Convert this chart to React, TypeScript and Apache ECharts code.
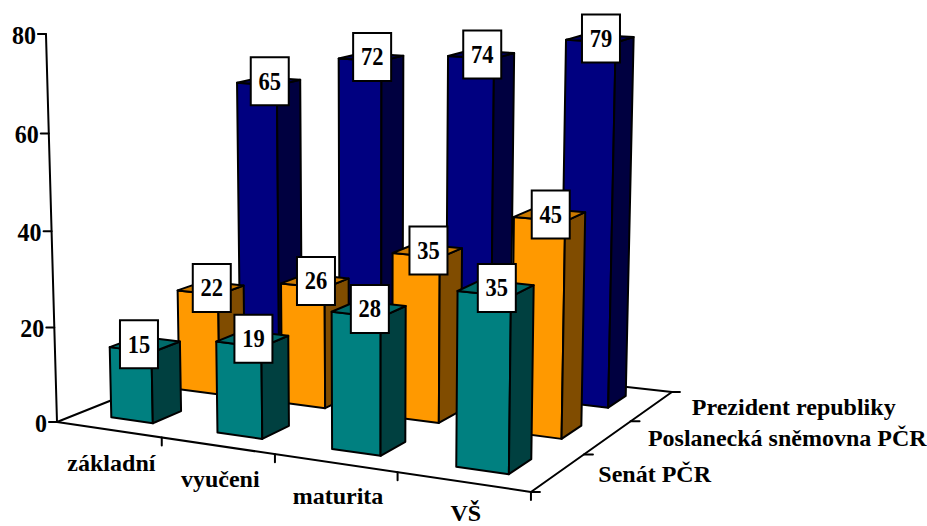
import React, { useEffect, useRef } from "react";
import * as echarts from "echarts";

const categories = ["základní", "vyučeni", "maturita", "VŠ"];
const depthNames = ["Senát PČR", "Poslanecká sněmovna PČR", "Prezident republiky"];
const senat = [15, 19, 28, 35];
const poslanecka = [22, 26, 35, 45];
const prezident = [65, 72, 74, 79];
const valueTicks = [0, 20, 40, 60, 80];

const W = 927;
const H = 526;
const FONT = "Liberation Serif";

// Perspective of the floor: categories 0..4 across, rows 0..3 deep
const persp = { a: 395, b: 236.2, c: 57, d: -3.2, e: -17.3, f: 422, g: -0.1487, h: 0.1729 };
const lift = (s: number, r: number) => (4.88 - 0.3 * s) * (0.965 + 0.045 * r);
const VX = 372;
const VY = 11500;

function project(api: any, u: number, v: number, value: number) {
  const p = api.coord([u, value]);
  const s = p[0] / W;
  const w = ((H - p[1]) / H) * 80;
  const r = v / 3;
  const den = 1 + persp.g * s + persp.h * r;
  const x0 = (persp.a * s + persp.b * r + persp.c) / den;
  const y0 = (persp.d * s + persp.e * r + persp.f) / den;
  const h = (w * lift(s, r)) / den;
  return [x0 + ((x0 - VX) * h) / VY, y0 - h];
}

// The value axis stands at the front-left corner and has its own foreshortening
function axisPoint(api: any, value: number) {
  const w = ((H - api.coord([0, value])[1]) / H) * 80;
  const c = -0.000423;
  const den = 1 + c * w;
  return [(57 + VX * c * w) / den, (422 + VY * c * w) / den];
}

const line = (a: number[], b: number[], lw = 2) => ({
  type: "line",
  shape: { x1: a[0], y1: a[1], x2: b[0], y2: b[1] },
  style: { stroke: "#000", lineWidth: lw, lineCap: "round" },
});

const label = (text: string, x: number, y: number, align: string, size = 24, squeeze = 1) => ({
  type: "text",
  x,
  y,
  scaleX: squeeze,
  style: {
    text,
    fill: "#000",
    align,
    verticalAlign: "middle",
    font: `bold ${size}px "${FONT}", serif`,
  },
});

function renderFloor(_: any, api: any) {
  const A = project(api, 0, 0, 0);
  const B = project(api, 4, 0, 0);
  const C = project(api, 4, 3, 0);
  const D = project(api, 0, 3, 0);
  const children: any[] = [line(A, B), line(B, C), line(D, C), line(A, D)];
  children.push(line(C, [C[0] + 8, C[1]]));
  categories.forEach((name, i) => {
    const t = project(api, i + 1, 0, 0);
    children.push(line(t, [t[0], t[1] + 8]));
    const m = project(api, i + 0.5, 0, 0);
    children.push(label(name, m[0] + 3, Math.min(m[1] + 33, 513), "center"));
  });
  depthNames.forEach((name, j) => {
    const t = project(api, 4, j, 0);
    children.push(line(t, [t[0] + 9, t[1]]));
    const m = project(api, 4, j + 0.5, 0);
    children.push(label(name, m[0] + 40, m[1] + 1, "left"));
  });
  children.push(line(axisPoint(api, 0), axisPoint(api, 80)));
  valueTicks.forEach((tick) => {
    const t = axisPoint(api, tick);
    children.push(line(t, [t[0] - 8, t[1]]));
    children.push(label(String(tick), t[0] - 10, t[1] + 1, "right", 25, 0.96));
  });
  return { type: "group", children };
}

const U0 = 0.31;
const U1 = 0.71;
const V0 = 0.31;
const V1 = 0.72;

const renderBar = (row: number, front: string, side: string, top: string) => (_: any, api: any) => {
  const i = api.value(0);
  const val = api.value(1);
  const pt = (u: number, v: number, w: number) => project(api, i + u, row + v, w);
  const face = (points: number[][], fill: string) => ({
    type: "polygon",
    shape: { points },
    style: { fill, stroke: "#000", lineWidth: 2, lineJoin: "round" },
  });
  return {
    type: "group",
    children: [
      face([pt(U0, V0, 0), pt(U1, V0, 0), pt(U1, V0, val), pt(U0, V0, val)], front),
      face([pt(U1, V0, 0), pt(U1, V1, 0), pt(U1, V1, val), pt(U1, V0, val)], side),
      face([pt(U0, V0, val), pt(U1, V0, val), pt(U1, V1, val), pt(U0, V1, val)], top),
    ],
  };
};

const renderBox = (row: number) => (_: any, api: any) => {
  const i = api.value(0);
  const val = api.value(1);
  const c = project(api, i + (U0 + U1) / 2, row + (V0 + V1) / 2, val);
  const cx = c[0] + (row === 0 && i === 0 ? -6 : 1);
  return {
    type: "group",
    children: [
      {
        type: "rect",
        shape: { x: cx - 19, y: c[1] - 24, width: 38, height: 48 },
        style: { fill: "#fff", stroke: "#000", lineWidth: 2 },
      },
      label(String(val), cx, c[1], "center", 25, 0.9),
    ],
  };
};

const rows = [
  { row: 2, values: prezident, front: "#000080", side: "#000040", top: "#000060" },
  { row: 1, values: poslanecka, front: "#FF9900", side: "#804C00", top: "#CC7A00" },
  { row: 0, values: senat, front: "#008080", side: "#004040", top: "#006A6A" },
];

export default function App() {
  const ref = useRef<HTMLDivElement>(null);
  useEffect(() => {
    const chart = echarts.init(ref.current!, undefined, { renderer: "svg" });
    const pairs = (values: number[]) => values.map((v, i) => [i, v]);
    chart.setOption({
      animation: false,
      backgroundColor: "#fff",
      grid: { left: 0, right: 0, top: 0, bottom: 0 },
      xAxis: { type: "value", min: 0, max: 4, show: false },
      yAxis: { type: "value", min: 0, max: 80, show: false },
      series: [
        { type: "custom", renderItem: renderFloor, data: [[0, 0]], z: 1, silent: true },
        ...rows.map((r) => ({
          type: "custom",
          renderItem: renderBar(r.row, r.front, r.side, r.top),
          data: pairs(r.values),
          z: 2,
          silent: true,
        })),
        ...rows.map((r) => ({
          type: "custom",
          renderItem: renderBox(r.row),
          data: pairs(r.values),
          z: 3,
          silent: true,
        })),
      ],
    });
    return () => chart.dispose();
  }, []);
  return <div ref={ref} style={{ position: "fixed", left: 0, top: 0, width: W, height: H }} />;
}
